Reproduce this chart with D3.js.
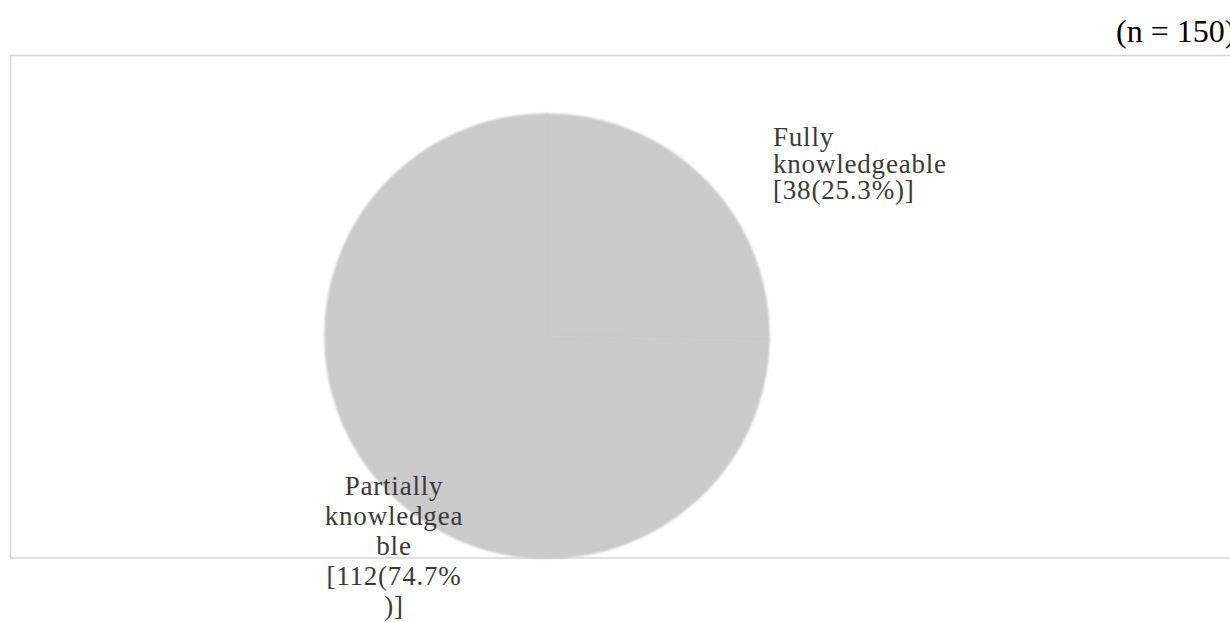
<!DOCTYPE html>
<html>
<head>
<meta charset="utf-8">
<script src="https://cdn.jsdelivr.net/npm/d3@7"></script>
<style>
  html, body { margin: 0; padding: 0; background: #ffffff; }
  svg { display: block; }
</style>
</head>
<body>
<svg id="chart" width="1230" height="622"></svg>
<script>
// ---- data ----
const categories = ["Fully knowledgeable", "Partially knowledgeable"];
const counts = [38, 112];
const percents = [25.3, 74.7];
const labelLines = [
  ["Fully", "knowledgeable", "[38(25.3%)]"],
  ["Partially", "knowledgea", "ble", "[112(74.7%", ")]"]
];
const sampleNote = "(n = 150)";

// ---- layout ----
const W = 1230, H = 622;
const svg = d3.select("#chart");
const cx = 547, cy = 336, R = 222;

const defs = svg.append("defs");
defs.append("filter").attr("id", "soft")
  .attr("x", "-5%").attr("y", "-5%").attr("width", "110%").attr("height", "110%")
  .append("feGaussianBlur").attr("stdDeviation", 1.2);

// frame
svg.append("rect")
  .attr("x", 10.5).attr("y", 55.5)
  .attr("width", 1240).attr("height", 502.5)
  .attr("fill", "none")
  .attr("stroke", "#d6d6d6")
  .attr("stroke-width", 1.5);

// note
svg.append("text")
  .attr("x", 1116).attr("y", 42)
  .attr("font-family", "'Liberation Serif', 'Times New Roman', serif")
  .attr("font-size", 32)
  .attr("fill", "#000")
  .text(sampleNote);

// pie
const data = categories.map((c, i) => ({ cat: c, count: counts[i], pct: percents[i], lines: labelLines[i] }));
const pie = d3.pie().sort(null).value(d => d.count);
const arcs = pie(data);
const arc = d3.arc().innerRadius(0).outerRadius(R);

const g = svg.append("g").attr("transform", `translate(${cx},${cy})`);
g.selectAll("path.slice")
  .data(arcs)
  .join("path")
  .attr("class", "slice")
  .attr("d", arc)
  .attr("fill", "#cbcbcb")
  .attr("stroke", "#c2c2c2")
  .attr("stroke-width", 1.2)
  .attr("filter", "url(#soft)");

// labels
const font = "'Liberation Serif', 'Times New Roman', serif";
const labelPos = [
  { x: 773, y: 146, lh: 26.5, anchor: "start" },
  { x: 394, y: 495, lh: 30, anchor: "middle" }
];
arcs.forEach((a, i) => {
  const p = labelPos[i];
  const t = svg.append("text")
    .attr("font-family", font)
    .attr("font-size", 27)
    .attr("letter-spacing", 0.8)
    .attr("fill", "#3a3a3a")
    .attr("text-anchor", p.anchor);
  a.data.lines.forEach((ln, j) => {
    t.append("tspan").attr("x", p.x).attr("y", p.y + j * p.lh).text(ln);
  });
});
</script>
</body>
</html>
